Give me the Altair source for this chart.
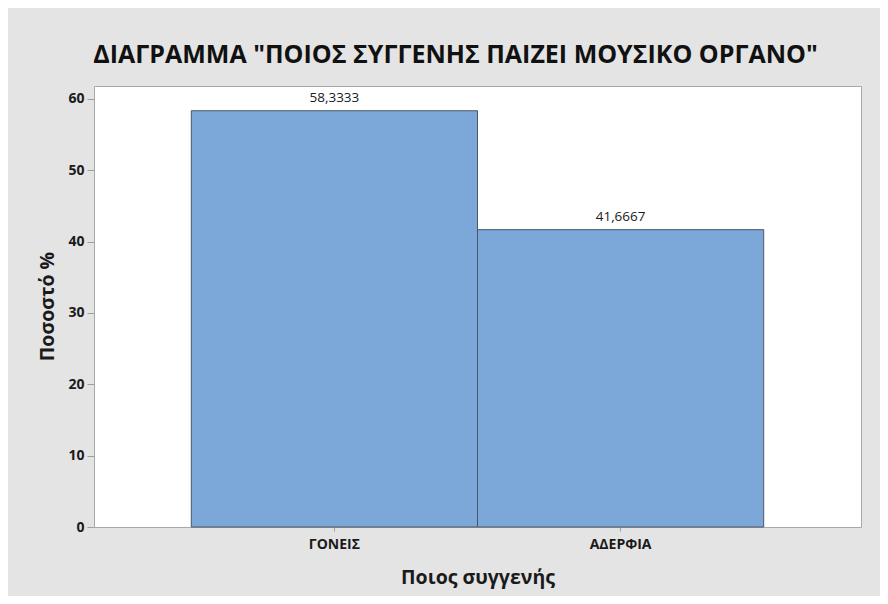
import altair as alt
import pandas as pd

categories = ["ΓΟΝΕΙΣ", "ΑΔΕΡΦΙΑ"]
values = [58.3333, 41.6667]
labels = [f"{v:.4f}".replace(".", ",") for v in values]

df = pd.DataFrame({"cat": categories, "val": values, "lab": labels})

FONT = "Open Sans"

x = alt.X(
    "cat:N",
    sort=categories,
    scale=alt.Scale(paddingInner=0, paddingOuter=0.34),
    axis=alt.Axis(
        title="Ποιος συγγενής",
        labelAngle=0,
        labelFont=FONT,
        labelFontSize=14,
        labelFontWeight="bold",
        labelColor="#1a1a1a",
        labelPadding=6,
        tickSize=4,
        tickColor="#a0a0a0",
        domain=False,
        titleFont=FONT,
        titleFontSize=19.5,
        titleFontWeight="bold",
        titleColor="#1a1a1a",
        titleBaseline="alphabetic",
        titleY=56,
    ),
)
y = alt.Y(
    "val:Q",
    scale=alt.Scale(domain=[0, 61.8], nice=False),
    axis=alt.Axis(
        title="Ποσοστό %",
        values=[0, 10, 20, 30, 40, 50, 60],
        grid=False,
        labelFont=FONT,
        labelFontSize=14,
        labelFontWeight="bold",
        labelColor="#1a1a1a",
        labelPadding=3,
        tickSize=7,
        tickColor="#a0a0a0",
        domain=False,
        titleFont=FONT,
        titleFontSize=19.5,
        titleFontWeight="bold",
        titleColor="#1a1a1a",
        titleAngle=-90,
        titleAlign="center",
        titleBaseline="alphabetic",
        titleX=-41,
        titleY=220,
    ),
)

bars = alt.Chart(df).mark_bar(
    color="#7BA7D9", stroke="#4a5666", strokeWidth=1
).encode(x=x, y=y)

text = alt.Chart(df).mark_text(
    dy=-9, baseline="alphabetic", font=FONT, fontSize=13.5, color="#1a1a1a"
).encode(x=alt.X("cat:N", sort=categories), y="val:Q", text="lab:N")

chart = (
    alt.layer(bars, text)
    .properties(
        width=767,
        height=441,
        autosize=alt.AutoSizeParams(type="none"),
        padding={"left": 86, "top": 78, "right": 19, "bottom": 69},
        background="#e4e4e4",
        title=alt.TitleParams(
            text='ΔΙΑΓΡΑΜΜΑ "ΠΟΙΟΣ ΣΥΓΓΕΝΗΣ ΠΑΙΖΕΙ ΜΟΥΣΙΚΟ ΟΡΓΑΝΟ"',
            font=FONT,
            fontSize=25,
            fontWeight="bold",
            color="#111111",
            anchor="middle",
            frame="group",
            baseline="alphabetic",
            offset=23,
            dx=-22,
            dy=25,
        ),
    )
    .configure_view(fill="white", stroke="#a8a8a8", strokeWidth=1)
)

chart.save("out.html", embed_options={"renderer": "svg", "actions": False})
